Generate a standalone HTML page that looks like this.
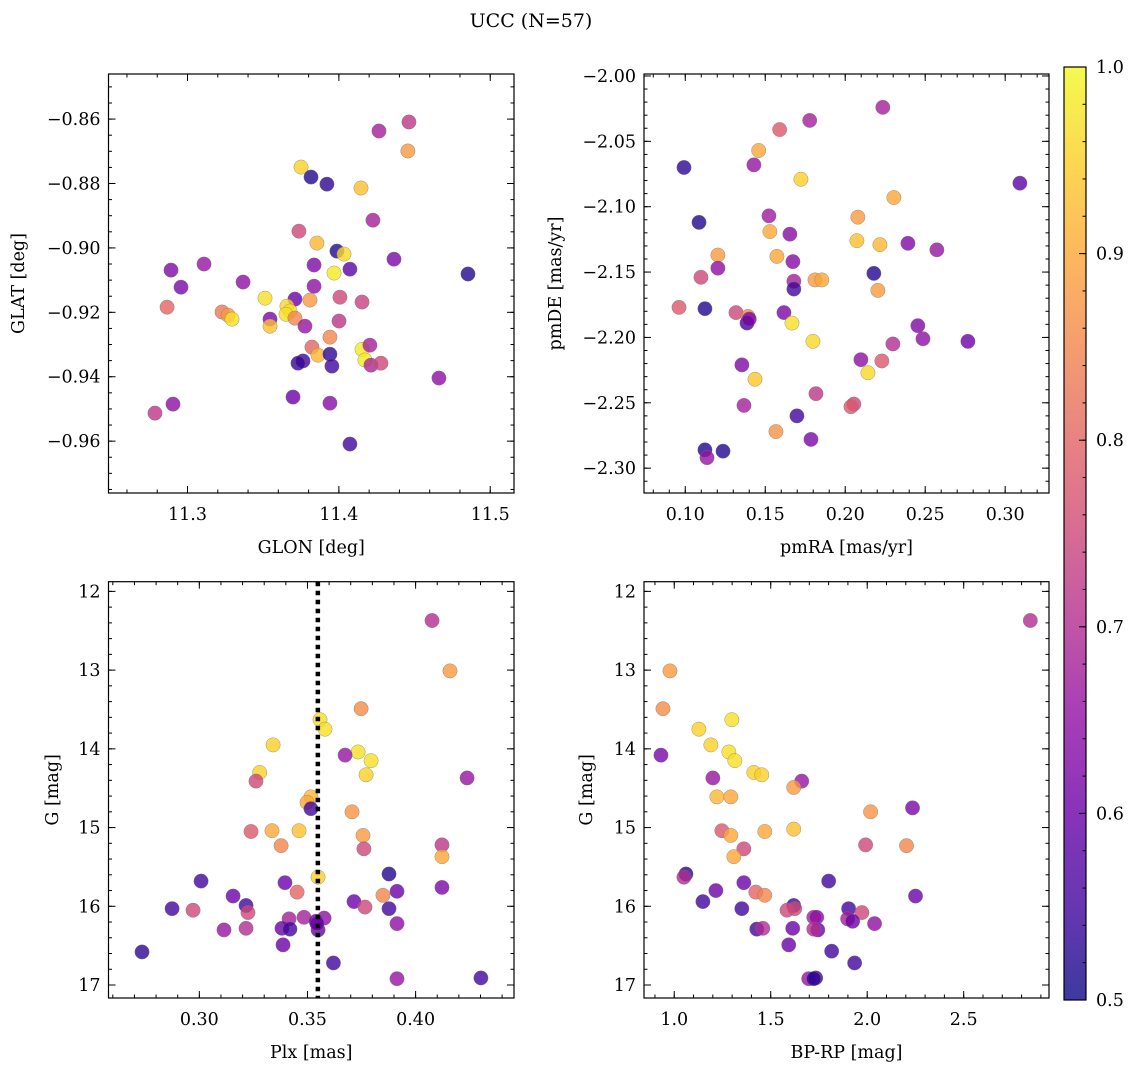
<!DOCTYPE html>
<html><head><meta charset="utf-8">
<style>
html,body{margin:0;padding:0;background:#fff;}
svg{display:block;font-family:"DejaVu Serif","Liberation Serif",serif;}
</style></head>
<body>
<svg id="fig" width="1136" height="1067" viewBox="0 0 1136 1067" xmlns="http://www.w3.org/2000/svg">
<text x="531" y="27" font-size="19" text-anchor="middle">UCC (N=57)</text>
</svg>
<script>
// ---- data ----
const glon = [11.4463,11.4265,11.4456,11.375,11.3816,11.3921,11.4146,11.4225,11.3736,11.3855,11.3987,11.4034,11.4364,11.3109,11.3836,11.4073,11.2891,11.4853,11.3968,11.3367,11.2957,11.3836,11.3512,11.371,11.3809,11.4007,11.4153,11.3657,11.2865,11.3677,11.3228,11.3268,11.3651,11.3294,11.371,11.3545,11.4001,11.3545,11.3776,11.3941,11.4153,11.3822,11.4205,11.3862,11.3941,11.4172,11.3763,11.373,11.4212,11.4278,11.3954,11.4661,11.3697,11.2904,11.3941,11.2785,11.4073];
const glat = [-0.8609,-0.8637,-0.8699,-0.8749,-0.878,-0.8802,-0.8814,-0.8914,-0.8948,-0.8985,-0.901,-0.9019,-0.9035,-0.905,-0.9053,-0.9066,-0.9069,-0.9081,-0.9078,-0.9106,-0.9122,-0.9119,-0.9156,-0.9159,-0.9162,-0.9153,-0.9168,-0.9181,-0.9184,-0.9196,-0.9199,-0.9209,-0.9206,-0.9221,-0.9218,-0.9221,-0.9227,-0.9243,-0.9243,-0.9277,-0.9315,-0.9308,-0.9302,-0.9333,-0.933,-0.9348,-0.9351,-0.9358,-0.9364,-0.9358,-0.9367,-0.9404,-0.9463,-0.9485,-0.9482,-0.9513,-0.9609];
const prob1 = [0.72,0.68,0.88,0.95,0.52,0.53,0.93,0.68,0.75,0.92,0.52,0.96,0.62,0.66,0.63,0.58,0.63,0.52,0.98,0.65,0.62,0.65,0.97,0.6,0.88,0.75,0.74,0.96,0.8,0.97,0.83,0.88,0.97,0.97,0.85,0.62,0.72,0.93,0.66,0.85,0.98,0.8,0.68,0.92,0.53,0.98,0.55,0.54,0.69,0.75,0.55,0.65,0.6,0.65,0.64,0.72,0.55];

const pmra = [0.2235,0.1778,0.159,0.1459,0.1429,0.0992,0.1723,0.3092,0.2304,0.1086,0.2079,0.1523,0.1529,0.1654,0.2073,0.2217,0.2392,0.2573,0.1204,0.1573,0.1673,0.2179,0.1204,0.1098,0.1811,0.1854,0.1679,0.1679,0.2204,0.1123,0.1317,0.1617,0.1392,0.1386,0.0961,0.1667,0.2454,0.2298,0.2098,0.2229,0.2486,0.2767,0.1798,0.2142,0.1354,0.1436,0.1817,0.2054,0.2036,0.1367,0.1698,0.1567,0.1786,0.1123,0.1236,0.1136,0.140];
const pmde = [-2.024,-2.034,-2.041,-2.057,-2.068,-2.070,-2.079,-2.082,-2.093,-2.112,-2.108,-2.107,-2.119,-2.121,-2.126,-2.129,-2.128,-2.133,-2.137,-2.138,-2.142,-2.151,-2.147,-2.154,-2.156,-2.156,-2.157,-2.163,-2.164,-2.178,-2.181,-2.181,-2.184,-2.189,-2.177,-2.189,-2.191,-2.205,-2.217,-2.218,-2.201,-2.203,-2.203,-2.227,-2.221,-2.232,-2.243,-2.251,-2.253,-2.252,-2.260,-2.272,-2.278,-2.286,-2.287,-2.292,-2.186];
const prob2 = [0.68,0.68,0.78,0.9,0.66,0.53,0.95,0.58,0.9,0.52,0.88,0.67,0.9,0.64,0.93,0.92,0.63,0.66,0.88,0.9,0.64,0.52,0.65,0.75,0.88,0.9,0.68,0.55,0.88,0.52,0.75,0.62,0.85,0.55,0.78,0.97,0.63,0.7,0.65,0.78,0.65,0.6,0.96,0.96,0.63,0.94,0.72,0.75,0.78,0.68,0.55,0.87,0.62,0.52,0.52,0.66,0.62];

const plx = [0.4076,0.4159,0.3748,0.3558,0.3581,0.3341,0.3734,0.3674,0.3794,0.3279,0.3771,0.3262,0.4238,0.3516,0.3498,0.3516,0.3706,0.3461,0.3336,0.3239,0.3757,0.4122,0.3761,0.3378,0.4122,0.3549,0.3877,0.3008,0.3396,0.4122,0.3914,0.3452,0.3849,0.3156,0.2874,0.2971,0.3216,0.3225,0.3715,0.3766,0.3877,0.3484,0.3577,0.3415,0.354,0.3914,0.3114,0.3216,0.3382,0.3419,0.3549,0.3387,0.362,0.2735,0.3914,0.4302,0.3544];
const gmag3 = [12.37,13.01,13.49,13.63,13.75,13.95,14.04,14.08,14.15,14.30,14.33,14.41,14.37,14.61,14.68,14.76,14.80,15.04,15.04,15.05,15.10,15.22,15.27,15.23,15.37,15.63,15.59,15.68,15.70,15.76,15.81,15.82,15.86,15.87,16.03,16.05,15.99,16.08,15.94,16.01,16.03,16.14,16.15,16.16,16.19,16.22,16.30,16.28,16.28,16.29,16.30,16.49,16.72,16.58,16.92,16.91,16.22];
const prob3 = [0.7,0.88,0.86,0.97,0.97,0.95,0.97,0.66,0.97,0.95,0.95,0.75,0.66,0.92,0.9,0.55,0.87,0.93,0.9,0.78,0.88,0.72,0.75,0.85,0.9,0.95,0.52,0.55,0.6,0.62,0.6,0.8,0.85,0.6,0.55,0.75,0.55,0.75,0.6,0.75,0.55,0.68,0.65,0.68,0.6,0.65,0.66,0.7,0.6,0.55,0.6,0.6,0.55,0.53,0.66,0.55,0.6];
const plxLine = [0.3548];

const bprp = [2.8453,0.9778,0.9416,1.2984,1.1278,1.1899,1.283,0.9312,1.314,1.4123,1.4537,1.6606,1.2002,1.6192,1.2209,1.2933,2.2349,2.0176,1.2468,1.2933,1.4692,1.6192,1.9917,2.2038,1.3606,1.3089,1.0605,1.0502,1.3606,1.8003,1.2157,1.4227,1.4692,2.2504,1.1485,1.3503,1.6192,1.6244,1.9037,1.5845,1.9725,1.7232,1.7387,1.8985,1.9244,2.0382,1.4278,1.4589,1.614,1.7439,1.7232,1.5933,1.8158,1.9348,1.6968,1.733,1.7227];
const gmag4 = [12.37,13.01,13.49,13.63,13.75,13.95,14.04,14.08,14.15,14.30,14.33,14.41,14.37,14.49,14.61,14.61,14.75,14.80,15.04,15.10,15.05,15.02,15.22,15.23,15.27,15.37,15.59,15.63,15.70,15.68,15.80,15.82,15.86,15.87,15.94,16.03,15.99,16.03,16.03,16.05,16.08,16.14,16.14,16.16,16.19,16.22,16.29,16.28,16.28,16.30,16.29,16.49,16.57,16.72,16.92,16.91,16.92];
const prob4 = [0.7,0.88,0.86,0.97,0.95,0.95,0.97,0.62,0.97,0.95,0.95,0.66,0.66,0.88,0.92,0.9,0.62,0.87,0.78,0.9,0.9,0.93,0.75,0.85,0.75,0.9,0.52,0.7,0.6,0.55,0.6,0.8,0.85,0.6,0.55,0.55,0.55,0.75,0.55,0.75,0.75,0.68,0.65,0.68,0.6,0.65,0.55,0.7,0.6,0.6,0.7,0.6,0.55,0.55,0.66,0.55,0.53];

const cbTicks = [0.5,0.6,0.7,0.8,0.9,1.0];

// ---- rendering ----
const NS = "http://www.w3.org/2000/svg";
const svg = document.getElementById('fig');
function mk(tag, attrs, parent){const e=document.createElementNS(NS,tag);for(const k in attrs)e.setAttribute(k,attrs[k]);(parent||svg).appendChild(e);return e;}
const plasma=[[13,8,135],[65,4,157],[106,0,168],[143,13,164],[177,42,144],[204,71,120],[225,100,98],[242,132,75],[252,166,54],[252,206,37],[240,249,33]];
function cmap(v){let t=(v-0.5)/0.5;t=Math.max(0,Math.min(1,t));const s=t*10;const i=Math.min(9,Math.floor(s));const f=s-i;const a=plasma[i],b=plasma[i+1];return 'rgb('+[0,1,2].map(k=>Math.round(a[k]+(b[k]-a[k])*f)).join(',')+')';}
function fmtNum(v,d){const s=Math.abs(v).toFixed(d);return (v<-1e-9?'\u2212':'')+s;}
const TF=17.5;

function panel(cfg){
  const g=mk('g',{});
  
  
  const [x0,x1]=cfg.px,[y0,y1]=cfg.py;
  const sx=v=>x0+(v-cfg.xd[0])/(cfg.xd[1]-cfg.xd[0])*(x1-x0);
  const sy=v=>y0+(v-cfg.yd[0])/(cfg.yd[1]-cfg.yd[0])*(y1-y0);
  const pg=mk('g',{},g);
  
  
  for(let i=0;i<cfg.x.length;i++){
    const c=mk('circle',{cx:sx(cfg.x[i]),cy:sy(cfg.y[i]),r:7.2,fill:cmap(cfg.c[i]),'fill-opacity':0.8,stroke:'#777','stroke-width':0.5,'stroke-opacity':0.7},pg);
    
    
  }
  if(cfg.vline){
    const l=mk('line',{x1:sx(cfg.vline[0]),x2:sx(cfg.vline[0]),y1:y0,y2:y1,stroke:'#000','stroke-width':4.5,'stroke-dasharray':'4.5,4.5'},g);
    
    
  }
  const fr=mk('rect',{x:x0,y:y0,width:x1-x0,height:y1-y0,fill:'none',stroke:'#000','stroke-width':1.2},g);
  
  
  const tg=mk('g',{stroke:'#000','stroke-width':1},g);
  const xlo=Math.min(...cfg.xd),xhi=Math.max(...cfg.xd),ylo=Math.min(...cfg.yd),yhi=Math.max(...cfg.yd);
  for(let k=Math.ceil(xlo/cfg.xmin-1e-6);k*cfg.xmin<=xhi+1e-9;k++){const X=sx(k*cfg.xmin);mk('line',{x1:X,x2:X,y1:y1,y2:y1-3.5},tg);mk('line',{x1:X,x2:X,y1:y0,y2:y0+3.5},tg);}
  for(let k=Math.ceil(ylo/cfg.ymin-1e-6);k*cfg.ymin<=yhi+1e-9;k++){const Y=sy(k*cfg.ymin);mk('line',{x1:x0,x2:x0+3.5,y1:Y,y2:Y},tg);mk('line',{x1:x1,x2:x1-3.5,y1:Y,y2:Y},tg);}
  cfg.xt.forEach(v=>{const X=sx(v);mk('line',{x1:X,x2:X,y1:y1,y2:y1-7},tg);mk('line',{x1:X,x2:X,y1:y0,y2:y0+7},tg);
    const t=mk('text',{x:X,y:y1+27,'font-size':TF,'text-anchor':'middle'},g);t.textContent=fmtNum(v,cfg.xdec);
    });
  cfg.yt.forEach(v=>{const Y=sy(v);mk('line',{x1:x0,x2:x0+7,y1:Y,y2:Y},tg);mk('line',{x1:x1,x2:x1-7,y1:Y,y2:Y},tg);
    const t=mk('text',{x:x0-8,y:Y+6,'font-size':TF,'text-anchor':'end'},g);t.textContent=fmtNum(v,cfg.ydec);
    });
  const xl=mk('text',{x:(x0+x1)/2,y:y1+60,'font-size':TF,'text-anchor':'middle'},g);xl.textContent=cfg.xlab;
  
  const yl=mk('text',{x:0,y:0,'font-size':TF,'text-anchor':'middle',transform:'translate('+cfg.ylx+','+((y0+y1)/2)+') rotate(-90)'},g);yl.textContent=cfg.ylab;
  
}

panel({name:'glon-glat-panel',px:[108.5,514],py:[74,493],xd:[11.2478,11.5157],yd:[-0.846,-0.9761],x:glon,y:glat,c:prob1,
  xt:[11.3,11.4,11.5],xmin:0.02,xdec:1,yt:[-0.86,-0.88,-0.90,-0.92,-0.94,-0.96],ymin:0.005,ydec:2,xlab:'GLON [deg]',ylab:'GLAT [deg]',ylx:24});
panel({name:'pm-panel',px:[644,1049],py:[74,493],xd:[0.0742,0.3274],yd:[-1.9985,-2.319],x:pmra,y:pmde,c:prob2,
  xt:[0.10,0.15,0.20,0.25,0.30],xmin:0.01,xdec:2,yt:[-2.00,-2.05,-2.10,-2.15,-2.20,-2.25,-2.30],ymin:0.01,ydec:2,xlab:'pmRA [mas/yr]',ylab:'pmDE [mas/yr]',ylx:561});
panel({name:'plx-g-panel',px:[108.5,514],py:[581.7,998],xd:[0.2580,0.4455],yd:[11.877,17.165],x:plx,y:gmag3,c:prob3,vline:plxLine,
  xt:[0.30,0.35,0.40],xmin:0.01,xdec:2,yt:[12,13,14,15,16,17],ymin:0.2,ydec:0,xlab:'Plx [mas]',ylab:'G [mag]',ylx:58});
panel({name:'cmd-panel',px:[644,1049],py:[581.7,998],xd:[0.8433,2.9421],yd:[11.877,17.165],x:bprp,y:gmag4,c:prob4,
  xt:[1.0,1.5,2.0,2.5],xmin:0.1,xdec:1,yt:[12,13,14,15,16,17],ymin:0.2,ydec:0,xlab:'BP-RP [mag]',ylab:'G [mag]',ylx:592});

// colorbar
(function(){
  const cx0=1064,cx1=1086,cy0=67,cy1=1000;
  const defs=mk('defs',{});
  const lg=mk('linearGradient',{id:'cbgrad',x1:0,y1:1,x2:0,y2:0},defs);
  for(let i=0;i<=20;i++){mk('stop',{offset:(i/20),'stop-color':cmap(0.5+0.5*i/20),'stop-opacity':0.8},lg);}
  const r=mk('rect',{x:cx0,y:cy0,width:cx1-cx0,height:cy1-cy0,fill:'url(#cbgrad)',stroke:'#000','stroke-width':1.2});
  
  
  const sy=v=>cy1-(v-0.5)/0.5*(cy1-cy0);
  for(let k=25;k<=50;k++){const Y=sy(k*0.02);mk('line',{x1:cx1,x2:cx1-3.5,y1:Y,y2:Y,stroke:'#000','stroke-width':1});}
  cbTicks.forEach(v=>{const Y=sy(v);mk('line',{x1:cx1,x2:cx1-7,y1:Y,y2:Y,stroke:'#000','stroke-width':1});
    const t=mk('text',{x:cx1+10,y:Y+6,'font-size':TF},svg);t.textContent=v.toFixed(1);
    });
})();
</script>
</body></html>
